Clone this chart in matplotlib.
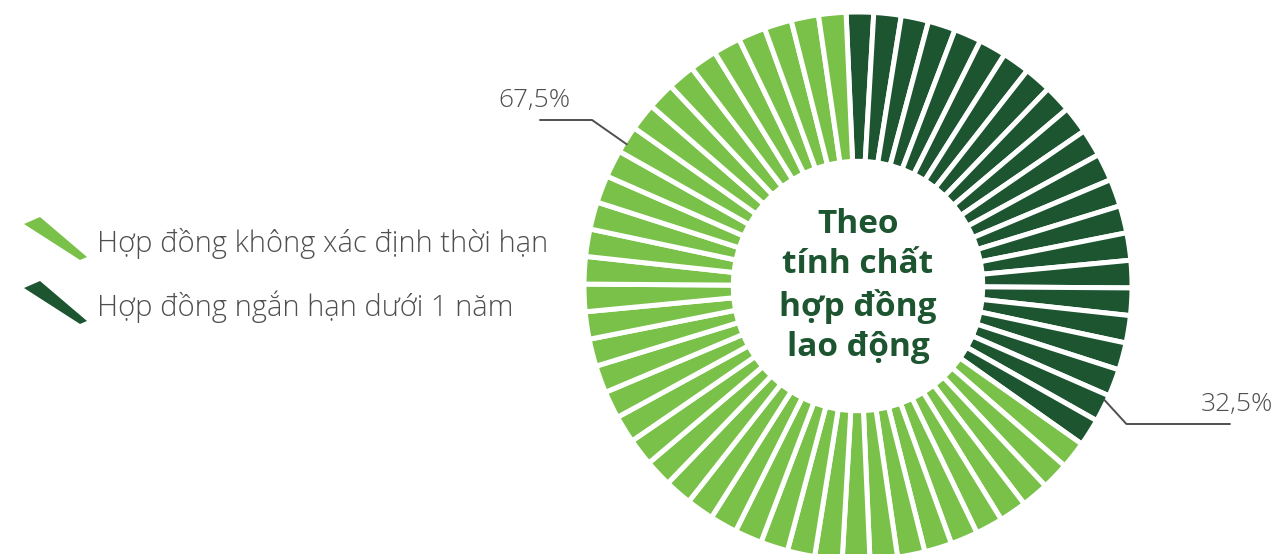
import matplotlib
matplotlib.use('Agg')
import matplotlib.pyplot as plt
from matplotlib.patches import Polygon
import numpy as np

# data
labels = ['Hợp đồng không xác định thời hạn', 'Hợp đồng ngắn hạn dưới 1 năm']
shares = [67.5, 32.5]
share_txt = ['67,5%', '32,5%']
n_segments = [40, 22]          # light, dark ticks in the ring
center_title = 'Theo\ntính chất\nhợp đồng\nlao động'

light = '#7ac14a'
dark = '#1d5530'
grey = '#4f4f4f'

W, H = 1277, 554
fig = plt.figure(figsize=(W / 100, H / 100), dpi=100)

def fx(x):
    return x / W

def fy(y):
    return 1 - y / H

# ring: centre (858, 286) px, outer radius ~274 px
cx, cy, R = 858, 286, 274
ax = fig.add_axes([fx(cx - R), fy(cy + R), 2 * R / W, 2 * R / H])
seg_colors = [dark] * n_segments[1] + [light] * n_segments[0]
ax.pie([1] * len(seg_colors), colors=seg_colors, startangle=92.5, counterclock=False,
       radius=1, wedgeprops=dict(width=0.545, edgecolor='white', linewidth=3.6))
ax.set_xlim(-1, 1)
ax.set_ylim(-1, 1)
ax.set_aspect('equal')
ax.axis('off')

ax.text(0, 0.0, center_title, ha='center', va='center', color=dark,
        fontsize=24, fontweight='bold', family='Open Sans', linespacing=1.3)

# leader lines + percentages
def ring_pt(deg):
    a = np.deg2rad(90 - deg)
    return 0.99 * np.cos(a), 0.99 * np.sin(a)

x0, y0 = ring_pt(301.5)
ax.annotate('', xy=(x0, y0), xytext=((540 - cx) / R, (cy - 120) / R),
            arrowprops=dict(arrowstyle='-', color=grey, lw=1.4,
                            connectionstyle='angle,angleA=0,angleB=-35,rad=0',
                            shrinkA=0, shrinkB=0), annotation_clip=False)
x1, y1 = ring_pt(114.8)
ax.annotate('', xy=(x1, y1), xytext=((1230 - cx) / R, (cy - 424) / R),
            arrowprops=dict(arrowstyle='-', color=grey, lw=1.4,
                            connectionstyle='angle,angleA=0,angleB=-47.5,rad=0',
                            shrinkA=0, shrinkB=0), annotation_clip=False)

fig.text(fx(534), fy(101), share_txt[0], ha='center', va='center', color=grey,
         fontsize=19, fontweight='light', family='Open Sans')
fig.text(fx(1237), fy(404), share_txt[1], ha='center', va='center', color=grey,
         fontsize=19, fontweight='light', family='Open Sans')

# legend with slanted swatches
sw = [(24, 224), (40, 217), (87, 257), (80, 260)]
for i, (lab, col) in enumerate(zip(labels, [light, dark])):
    dy = i * 64
    pts = [(fx(x), fy(y + dy)) for x, y in sw]
    fig.patches.append(Polygon(pts, closed=True, transform=fig.transFigure,
                               facecolor=col, edgecolor='none'))
    fig.text(fx(97), fy(243 + dy), lab, ha='left', va='center', color=grey,
             fontsize=21, fontweight='light', family='Open Sans')

fig.savefig('out.png', dpi=100)
